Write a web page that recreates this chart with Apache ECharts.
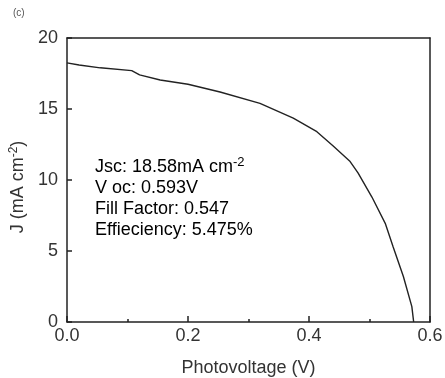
<!DOCTYPE html>
<html>
<head>
<meta charset="utf-8">
<script src="https://cdn.jsdelivr.net/npm/echarts@6/dist/echarts.min.js"></script>
<style>
  body { margin: 0; background: #fff; }
  #main { width: 445px; height: 378px; }
</style>
</head>
<body>
<div id="main"></div>
<script>
// J-V curve
var voltage = [0, 0.02, 0.055, 0.107, 0.12, 0.154, 0.2, 0.253, 0.319, 0.374, 0.413, 0.44, 0.468, 0.481, 0.504, 0.526, 0.539, 0.556, 0.570, 0.573]
var current = [18.25, 18.1, 17.9, 17.7, 17.4, 17.04, 16.74, 16.2, 15.4, 14.35, 13.4, 12.4, 11.3, 10.5, 8.8, 6.95, 5.3, 3.2, 1.08, 0]
var notes = ['V oc: 0.593V', 'Fill Factor: 0.547', 'Effieciency: 5.475%']

var points = voltage.map(function (v, i) { return [v, current[i]] })

var font = 'Liberation Sans, Arial, sans-serif'
var ink = '#222'

var myChart = echarts.init(document.getElementById('main'))
myChart.setOption({
    animation: false,
    grid: { left: 67, right: 15, top: 38, bottom: 56, outerBoundsMode: 'none', containLabel: false },
    xAxis: [{
        type: 'value',
        min: 0, max: 0.6, interval: 0.2,
        name: 'Photovoltage (V)',
        nameLocation: 'middle',
        nameGap: 37,
        nameTextStyle: { fontFamily: font, fontSize: 18, color: '#333' },
        axisLine: { lineStyle: { color: ink, width: 1.5 } },
        axisTick: { inside: true, length: 6, lineStyle: { color: ink, width: 1.5 } },
        minorTick: { show: true, splitNumber: 2, length: 3, lineStyle: { color: ink, width: 1.5 } },
        axisLabel: { fontFamily: font, fontSize: 18, color: '#333', margin: 5,
            formatter: function (v) { return v.toFixed(1) } },
        splitLine: { show: false }
    }, {
        type: 'value', position: 'top', min: 0, max: 0.6,
        axisLine: { show: true, onZero: false, lineStyle: { color: ink, width: 1.5 } },
        axisTick: { show: false }, axisLabel: { show: false }, splitLine: { show: false }
    }],
    yAxis: [{
        type: 'value',
        min: 0, max: 20, interval: 5,
        name: '{t|J (mA cm}{s|-2}{t|)}',
        nameLocation: 'middle',
        nameGap: 34,
        nameRotate: 90,
        nameTextStyle: {
            padding: [0, 14, 0, 0],
            rich: {
                t: { fontFamily: font, fontSize: 18, color: '#333' },
                s: { fontFamily: font, fontSize: 12, color: '#333', verticalAlign: 'top', padding: [0, 0, 9, 0] }
            }
        },
        axisLine: { show: true, lineStyle: { color: ink, width: 1.5 } },
        axisTick: { inside: true, length: 5, lineStyle: { color: ink, width: 1.5 } },
        axisLabel: { fontFamily: font, fontSize: 18, color: '#333', margin: 9 },
        splitLine: { show: false }
    }, {
        type: 'value', position: 'right', min: 0, max: 20,
        axisLine: { show: true, onZero: false, lineStyle: { color: ink, width: 1.5 } },
        axisTick: { show: false }, axisLabel: { show: false }, splitLine: { show: false }
    }],
    graphic: [
        { type: 'text', left: 13, top: 8, style: { text: '(c)', font: '10px ' + font, fill: '#555' } },
        {
            type: 'text', left: 95, top: 156,
            style: {
                text: '{t|Jsc: 18.58mA cm}{s|-2}\n{t|' + notes.join('}\n{t|') + '}',
                rich: {
                    t: { fontFamily: font, fontSize: 18, color: '#333', lineHeight: 21 },
                    s: { fontFamily: font, fontSize: 13, color: '#333', verticalAlign: 'top', padding: [0, 0, 9, 0] }
                }
            }
        }
    ],
    series: [{
        type: 'line',
        data: points,
        showSymbol: false,
        lineStyle: { color: ink, width: 1.4 },
        clip: false
    }]
})
</script>
</body>
</html>
